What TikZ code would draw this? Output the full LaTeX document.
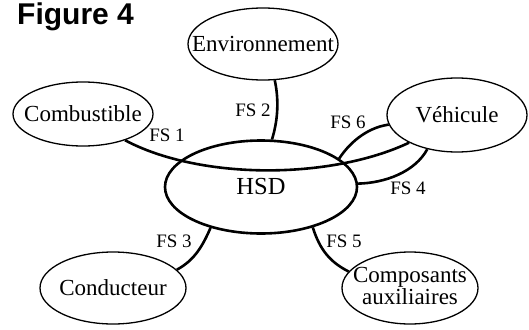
\documentclass[tikz,border=0pt]{standalone}
\usepackage{fontspec}
\setmainfont{Liberation Serif}
\newfontfamily\figsans{Liberation Sans}
\usetikzlibrary{shapes.geometric}
\tikzset{
  ell/.style={ellipse, draw, line width=1.3pt, inner sep=0pt, font=\fontsize{23}{25}\selectfont},
  hsd/.style={ellipse, draw, line width=2.6pt, inner sep=0pt, font=\fontsize{24.5}{28}\selectfont},
  conn/.style={line width=2.6pt},
  fs/.style={font=\fontsize{19}{21}\selectfont, inner sep=0pt}
}
\begin{document}
\begin{tikzpicture}[x=1pt,y=-1pt]
\useasboundingbox (0,0) rectangle (529,329);
\node[anchor=base west, inner sep=0pt, font=\figsans\bfseries\fontsize{30}{32}\selectfont] (title) at (17,25) {Figure 4};

\node[ell, minimum width=150pt, minimum height=72pt] (env) at (263,44) {\makebox[0pt]{Environnement}};
\node[ell, minimum width=140pt, minimum height=64pt] (comb) at (83,114) {\makebox[0pt]{Combustible}};
\node[ell, minimum width=140pt, minimum height=74pt] (veh) at (457,115) {\makebox[0pt]{Véhicule}};
\node[hsd, minimum width=192pt, minimum height=93pt] (hsd) at (261,187) {\makebox[0pt]{\raisebox{-5pt}{HSD}}};
\node[ell, minimum width=146pt, minimum height=72pt] (cond) at (113,288) {\makebox[0pt]{Conducteur}};
\node[ell, minimum width=136pt, minimum height=72pt] (comp) at (410,288) {\makebox[0pt]{\begin{tabular}{@{}c@{}}Composants\\[-3pt]auxiliaires\end{tabular}}};

% connectors
\draw[conn] (comb.-32) .. controls (200,180) and (330,180) .. (veh.-150);
\draw[conn] (env.-72) .. controls (279,100) and (278,120) .. (hsd.77);
\draw[conn] (veh.-172) .. controls (365,128) and (348,145) .. (hsd.20);
\draw[conn] (veh.-131) .. controls (415,172) and (385,183) .. (hsd.2);
\draw[conn] (hsd.-141) .. controls (203,245) and (195,260) .. (cond.16);
\draw[conn] (hsd.-38) .. controls (320,250) and (330,262) .. (comp.165);

% labels
\node[fs] (fs1) at (167,135) {FS 1};
\node[fs] (fs2) at (253,110) {FS 2};
\node[fs] (fs6) at (348,122) {FS 6};
\node[fs] (fs4) at (408,188) {FS 4};
\node[fs] (fs3) at (174,241) {FS 3};
\node[fs] (fs5) at (344,241) {FS 5};
\end{tikzpicture}
\end{document}
